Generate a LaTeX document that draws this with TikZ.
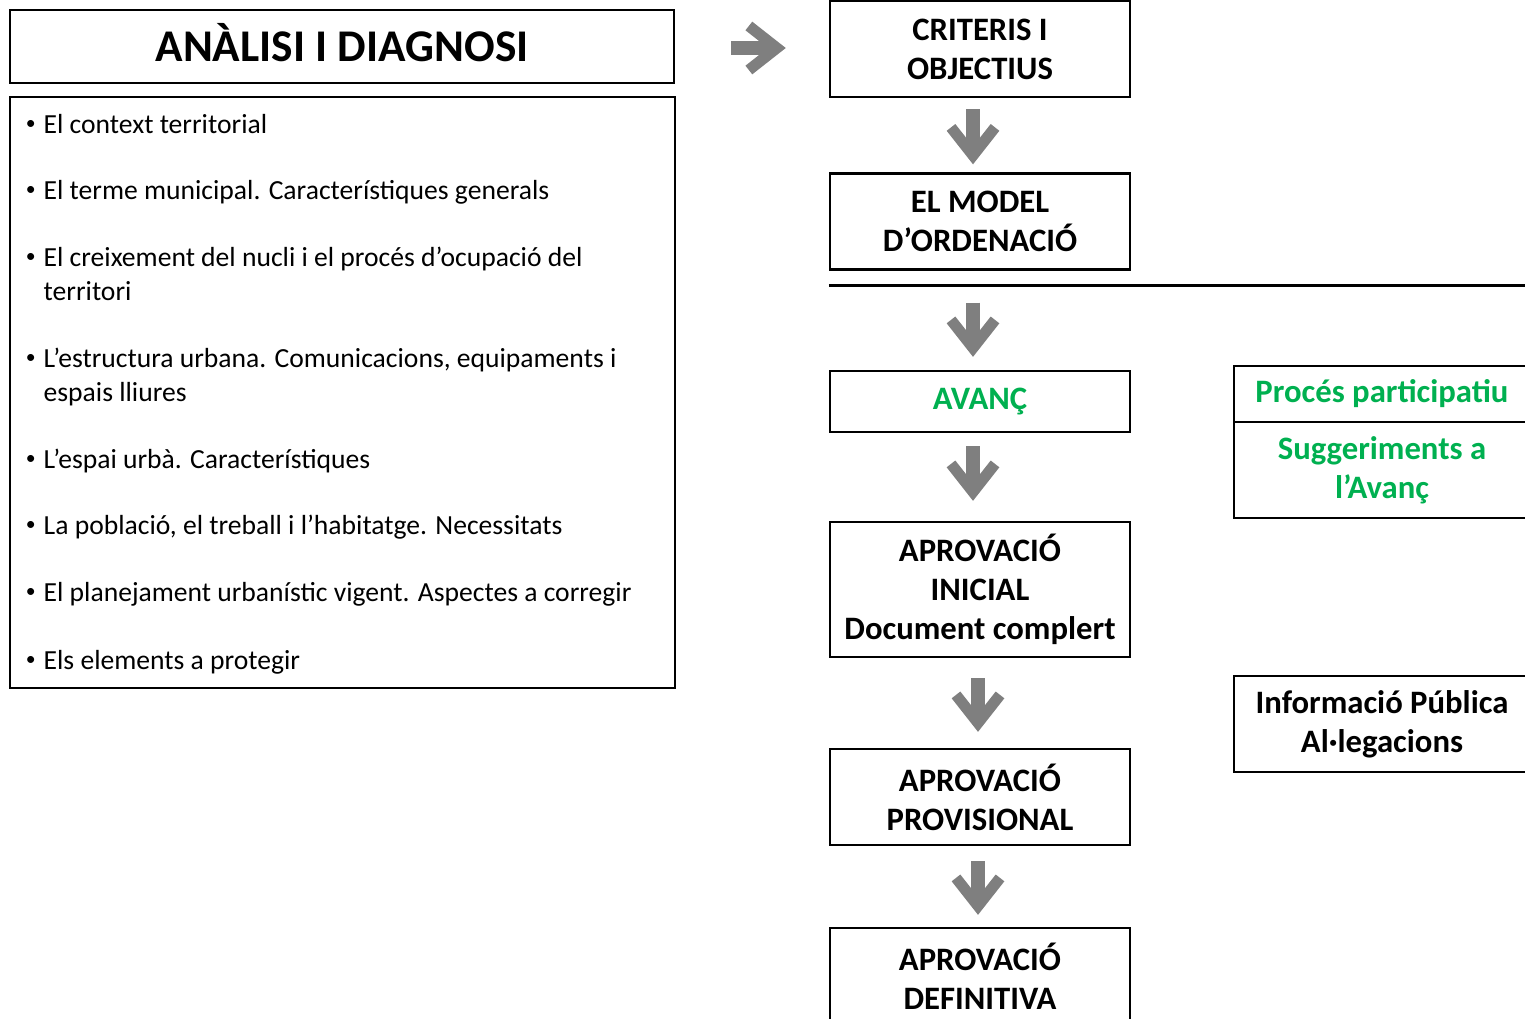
\documentclass[tikz,border=0pt]{standalone}
\usepackage{fontspec}
\setmainfont{Carlito}
\usetikzlibrary{calc,arrows.meta}
\definecolor{arrowgray}{RGB}{127,127,127}
\definecolor{avgreen}{RGB}{0,176,80}

\begin{document}
\begin{tikzpicture}[x=0.01cm,y=-0.01cm,
stage/.style={%
draw,
line width=0.65pt,
minimum width=3cm,
minimum height=0.96cm,
align=center,
inner sep=0pt,
font=\fontsize{9.3}{11.1}\selectfont\bfseries,
},
side/.style={%
draw,
line width=0.5pt,
outer sep=0pt,
minimum width=2.96cm,
align=center,
inner sep=0pt,
font=\fontsize{9.3}{11.1}\selectfont\bfseries,
},
item/.style={%
anchor=base west,
align=left,
inner sep=0pt,
font=\fontsize{7.85}{9.6}\selectfont,
},
flow/.style={%
draw=arrowgray,
line width=0.145cm,
-{Straight Barb[length=0.28cm,width=0.44cm,line width=0.11cm]},
},
]
\useasboundingbox (0,0) rectangle (1525,1018);
\clip (0,0) rectangle (1525,1018);
%% Analysis
\node[draw,line width=0.6pt,minimum width=6.64cm,minimum height=0.73cm,text height=0.3cm,text depth=0pt,
  font=\fontsize{12.9}{15}\selectfont\bfseries](title)at(342,46.5){ANÀLISI I DIAGNOSI};
\node[draw,line width=0.5pt,minimum width=6.65cm,minimum height=5.91cm](list)at(342.5,392.5){};
% y = baseline of the last line of each item
\foreach \y/\txt [count=\i] in {133/{El context territorial},
  199/{El terme municipal. Característiques generals},
  300/{El creixement del nucli i el procés d’ocupació del\\territori},
  401/{L’estructura urbana. Comunicacions, equipaments i\\espais lliures},
  468/{L’espai urbà. Característiques},
  534/{La població, el treball i l’habitatge. Necessitats},
  601/{El planejament urbanístic vigent. Aspectes a corregir},
  669/{Els elements a protegir}}{%
\node[item](it\i)at(43,\y){\noindent\llap{\raisebox{0.3ex}{\fontsize{5.6}{5}\selectfont\textbullet}\hspace{0.08cm}}\txt};
}
%% Stages
\node[stage](crit)at(980,49){CRITERIS I\\OBJECTIUS};
\node[stage](model)at(980,221.5){EL MODEL\\D’ORDENACIÓ};
\node[stage,minimum height=0.61cm,text=avgreen](avanc)at(980,401.5){AVANÇ};
\node[stage,minimum height=1.35cm](inicial)at(980,589.5){APROVACIÓ\\INICIAL\\Document complert};
\node[stage](prov)at(980,797){APROVACIÓ\\PROVISIONAL};
\node[stage](defin)at(980,976){APROVACIÓ\\DEFINITIVA};
\draw[line width=0.75pt]($(model.south west)+(0,15)$)--++(720,0);
%% Side notes
\node[side,minimum height=0.56cm,text=avgreen](proces)at(1382,394){Procés participatiu};
\node[side,minimum height=0.96cm,text=avgreen,anchor=north](sugg)at(proces.south){Suggeriments a\\l’Avanç};
\node[side,minimum height=0.96cm](info)at(1382,724){Informació Pública\\Al·legacions};
%% Arrows
\draw[flow]($(title.east)+(56,1.5)$)--($(crit.west)+(-43,-1)$);
\draw[flow]($(crit.south)+(-7,11)$)--($(model.north)+(-7,-8)$);
\draw[flow]($(model.south)+(-7,32)$)--($(avanc.north)+(-7,-13)$);
\draw[flow]($(avanc.south)+(-7,13)$)--($(inicial.north)+(-7,-20)$);
\draw[flow]($(inicial.south)+(-2,20)$)--($(prov.north)+(-2,-16)$);
\draw[flow]($(prov.south)+(-2,15)$)--($(defin.north)+(-2,-12)$);
\end{tikzpicture}
\end{document}
